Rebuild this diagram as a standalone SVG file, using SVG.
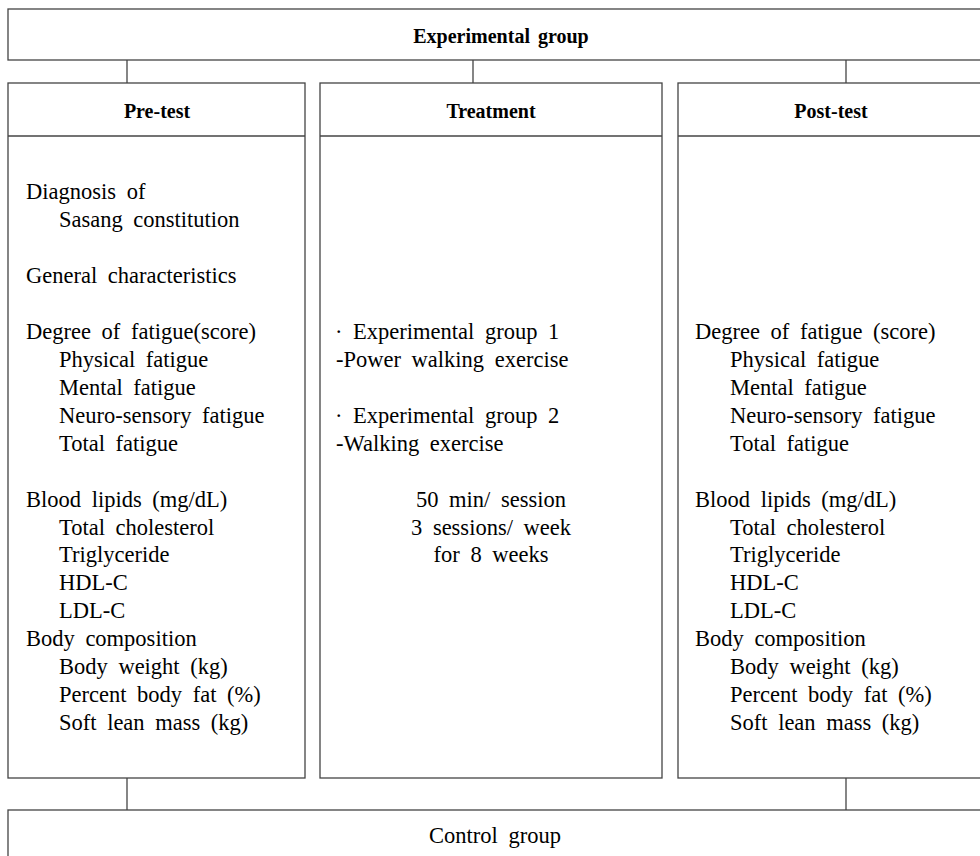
<svg xmlns="http://www.w3.org/2000/svg" width="980" height="856" viewBox="0 0 980 856">
<style>
.box{fill:#fff;stroke:#444;stroke-width:1.3}
.ln{stroke:#444;stroke-width:1.3;fill:none}
.h{font-family:"Liberation Serif","Times New Roman",serif;font-weight:bold;font-size:20px;fill:#000;text-anchor:middle;word-spacing:3px}
.t{font-family:"Liberation Serif","Times New Roman",serif;font-size:22.5px;fill:#000;word-spacing:5px}
.c{text-anchor:middle}
</style>
<rect width="980" height="856" fill="#fff"/>
<g id="connectors">
<line class="ln" x1="127" y1="60" x2="127" y2="83"/>
<line class="ln" x1="473" y1="60" x2="473" y2="83"/>
<line class="ln" x1="846" y1="60" x2="846" y2="83"/>
<line class="ln" x1="127" y1="778" x2="127" y2="810"/>
<line class="ln" x1="846" y1="778" x2="846" y2="810"/>
</g>
<g id="experimental">
<rect class="box" x="8" y="9" width="985" height="51"/>
<text class="h" x="501" y="43">Experimental group</text>
</g>
<g id="pretest">
<rect class="box" x="8" y="83" width="297" height="695"/>
<line class="ln" x1="8" y1="136" x2="305" y2="136"/>
<text class="h" x="157" y="118">Pre-test</text>
<text class="t" x="26" y="199">Diagnosis of</text>
<text class="t" x="59" y="227">Sasang constitution</text>
<text class="t" x="26" y="283">General characteristics</text>
<text class="t" x="26" y="339">Degree of fatigue(score)</text>
<text class="t" x="59" y="367">Physical fatigue</text>
<text class="t" x="59" y="395">Mental fatigue</text>
<text class="t" x="59" y="423">Neuro-sensory fatigue</text>
<text class="t" x="59" y="451">Total fatigue</text>
<text class="t" x="26" y="507">Blood lipids (mg/dL)</text>
<text class="t" x="59" y="535">Total cholesterol</text>
<text class="t" x="59" y="562">Triglyceride</text>
<text class="t" x="59" y="590">HDL-C</text>
<text class="t" x="59" y="618">LDL-C</text>
<text class="t" x="26" y="646">Body composition</text>
<text class="t" x="59" y="674">Body weight (kg)</text>
<text class="t" x="59" y="702">Percent body fat (%)</text>
<text class="t" x="59" y="730">Soft lean mass (kg)</text>
</g>
<g id="treatment">
<rect class="box" x="320" y="83" width="342" height="695"/>
<line class="ln" x1="320" y1="136" x2="662" y2="136"/>
<text class="h" x="491" y="118">Treatment</text>
<text class="t" x="335" y="339">· Experimental group 1</text>
<text class="t" x="336" y="367">-Power walking exercise</text>
<text class="t" x="335" y="423">· Experimental group 2</text>
<text class="t" x="336" y="451">-Walking exercise</text>
<text class="t c" x="491" y="507">50 min/ session</text>
<text class="t c" x="491" y="535">3 sessions/ week</text>
<text class="t c" x="491" y="562">for 8 weeks</text>
</g>
<g id="posttest">
<rect class="box" x="678" y="83" width="315" height="695"/>
<line class="ln" x1="678" y1="136" x2="993" y2="136"/>
<text class="h" x="831" y="118">Post-test</text>
<text class="t" x="695" y="339">Degree of fatigue (score)</text>
<text class="t" x="730" y="367">Physical fatigue</text>
<text class="t" x="730" y="395">Mental fatigue</text>
<text class="t" x="730" y="423">Neuro-sensory fatigue</text>
<text class="t" x="730" y="451">Total fatigue</text>
<text class="t" x="695" y="507">Blood lipids (mg/dL)</text>
<text class="t" x="730" y="535">Total cholesterol</text>
<text class="t" x="730" y="562">Triglyceride</text>
<text class="t" x="730" y="590">HDL-C</text>
<text class="t" x="730" y="618">LDL-C</text>
<text class="t" x="695" y="646">Body composition</text>
<text class="t" x="730" y="674">Body weight (kg)</text>
<text class="t" x="730" y="702">Percent body fat (%)</text>
<text class="t" x="730" y="730">Soft lean mass (kg)</text>
</g>
<g id="control">
<rect class="box" x="8" y="810" width="985" height="70"/>
<text class="t c" x="495" y="843">Control group</text>
</g>
</svg>
